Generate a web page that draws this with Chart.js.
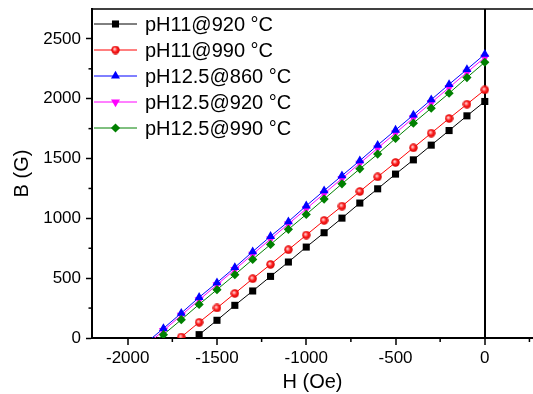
<!DOCTYPE html>
<html>
<head>
<meta charset="utf-8">
<script src="https://cdn.jsdelivr.net/npm/chart.js@4/dist/chart.umd.min.js"></script>
<style>
  body { margin: 0; background: #fff; }
  canvas { display: block; }
</style>
</head>
<body>
<canvas id="bhChart" width="533" height="394"></canvas>
<script>
// --- Datos ---
const campoH = [-1900, -1800, -1700, -1600, -1500, -1400, -1300, -1200, -1100, -1000,
                -900, -800, -700, -600, -500, -400, -300, -200, -100, 0];

const bPH11_920   = [null, null, -95, 28, 148, 273, 393, 515, 635, 760, 880, 1002, 1128, 1247, 1370, 1489, 1612, 1734, 1857, 1977];
const bPH11_990   = [null, -115, 8, 131, 251, 373, 496, 615, 738, 860, 983, 1102, 1225, 1347, 1467, 1590, 1712, 1835, 1954, 2074];
const bPH125_860  = [-45, 80, 208, 340, 463, 590, 722, 850, 973, 1105, 1232, 1357, 1482, 1612, 1738, 1864, 1992, 2120, 2245, 2372];
const bPH125_920  = [-65, 62, 190, 318, 445, 572, 700, 827, 953, 1080, 1207, 1333, 1460, 1587, 1713, 1840, 1967, 2093, 2220, 2345];
const bPH125_990  = [-97, 28, 153, 281, 404, 529, 657, 782, 908, 1033, 1161, 1289, 1414, 1537, 1668, 1796, 1921, 2046, 2177, 2305];

const etiquetas = ['pH11@920 \u00B0C', 'pH11@990 \u00B0C', 'pH12.5@860 \u00B0C', 'pH12.5@920 \u00B0C', 'pH12.5@990 \u00B0C'];

// Ticks de los ejes
const ticksX = [-2000, -1500, -1000, -500, 0];
const ticksXMenores = [-1750, -1250, -750, -250, 250];
const ticksY = [0, 500, 1000, 1500, 2000, 2500];
const ticksYMenores = [250, 750, 1250, 1750, 2250];

const FUENTE = '"Liberation Sans", Arial, sans-serif';

// Circulo rojo con brillo (como el de Origin)
function circuloBrillante() {
    const c = document.createElement('canvas');
    c.width = 9; c.height = 9;
    const g = c.getContext('2d');
    const grad = g.createRadialGradient(3.5, 3.5, 0.5, 4.5, 4.5, 4.5);
    grad.addColorStop(0, '#ffd0d0');
    grad.addColorStop(0.45, '#ff2020');
    grad.addColorStop(1, '#d00000');
    g.fillStyle = grad;
    g.beginPath();
    g.arc(4.5, 4.5, 4.2, 0, Math.PI * 2);
    g.fill();
    return c;
}

function puntos(valores) {
    return campoH.map((h, i) => ({ x: h, y: valores[i] })).filter(p => p.y !== null);
}

function serie(indice, valores, color, estilo, radio, rotacion, orden) {
    return {
        label: etiquetas[indice],
        data: puntos(valores),
        borderColor: color,
        backgroundColor: color,
        borderWidth: 1,
        pointStyle: estilo,
        pointRotation: rotacion,
        pointRadius: ctx => (ctx.raw && ctx.raw.y < 0 ? 0 : radio),
        pointBorderWidth: 0,
        tension: 0,
        order: orden
    };
}

const datasets = [
    serie(0, bPH11_920, '#000000', 'rect', 5, 0, 5),
    serie(1, bPH11_990, '#ff0000', circuloBrillante(), 4.5, 0, 4),
    serie(2, bPH125_860, '#0000ff', 'triangle', 5.2, 0, 2),
    serie(3, bPH125_920, '#ff00ff', 'triangle', 5.2, 180, 3),
    serie(4, bPH125_990, '#008000', 'rectRot', 4.6, 0, 1)
];

// --- Plugin: leyenda, ticks menores y borde superior ---
const extrasPlugin = {
    id: 'extras',
    afterDraw(chart) {
        const { ctx, chartArea, scales } = chart;
        ctx.save();
        // borde superior
        ctx.strokeStyle = '#000';
        ctx.lineWidth = 1.5;
        ctx.beginPath();
        ctx.moveTo(chartArea.left, chartArea.top);
        ctx.lineTo(chartArea.right, chartArea.top);
        ctx.stroke();

        // ticks menores
        ctx.lineWidth = 1.5;
        ticksXMenores.forEach(v => {
            const px = scales.x.getPixelForValue(v);
            ctx.beginPath();
            ctx.moveTo(px, chartArea.bottom);
            ctx.lineTo(px, chartArea.bottom + 4);
            ctx.stroke();
        });
        ticksYMenores.forEach(v => {
            const py = scales.y.getPixelForValue(v);
            ctx.beginPath();
            ctx.moveTo(chartArea.left - 3.5, py);
            ctx.lineTo(chartArea.left, py);
            ctx.stroke();
        });

        // leyenda
        const x0 = chartArea.left + 2, x1 = chartArea.left + 45;
        const xm = (x0 + x1) / 2;
        ctx.font = '20px ' + FUENTE;
        ctx.textBaseline = 'middle';
        chart.data.datasets.forEach((ds, i) => {
            const y = 24 + i * 26;
            ctx.strokeStyle = ds.borderColor;
            ctx.lineWidth = 1;
            ctx.beginPath();
            ctx.moveTo(x0, y);
            ctx.lineTo(x1, y);
            ctx.stroke();
            ctx.fillStyle = ds.backgroundColor;
            const r = typeof ds.pointRadius === 'function' ? ds.pointRadius({ raw: { y: 1 } }) : ds.pointRadius;
            Chart.helpers.drawPoint(ctx, { pointStyle: ds.pointStyle, rotation: ds.pointRotation, radius: r, borderWidth: 0 }, xm, y);
            ctx.fillStyle = '#000';
            ctx.fillText(ds.label, chartArea.left + 53, y + 1);
        });
        ctx.restore();
    }
};

// --- Grafica B vs H ---
const ctx = document.getElementById('bhChart').getContext('2d');
new Chart(ctx, {
    type: 'line',
    data: { datasets: datasets },
    options: {
        responsive: false,
        animation: false,
        layout: { autoPadding: false, padding: { top: 9, right: 0, left: 0, bottom: 0 } },
        plugins: { legend: { display: false }, tooltip: { enabled: false } },
        scales: {
            x: {
                type: 'linear',
                min: -2200,
                max: 270,
                afterFit: s => { s.height = 56; s.paddingLeft = 0; s.paddingRight = 0; },
                afterBuildTicks: s => { s.ticks = ticksX.map(v => ({ value: v })); },
                border: { color: '#000', width: 2 },
                grid: {
                    color: c => (c.tick && c.tick.value === 0 ? '#000' : 'rgba(0,0,0,0)'),
                    lineWidth: c => (c.tick && c.tick.value === 0 ? 2 : 0),
                    tickColor: '#000',
                    tickWidth: 1.5,
                    tickLength: 7
                },
                ticks: { color: '#000', font: { family: FUENTE, size: 17 }, padding: 3, maxRotation: 0, callback: v => String(v) },
                title: { display: true, text: 'H (Oe)', color: '#000', font: { family: FUENTE, size: 20 }, padding: { top: 0, bottom: 0 } }
            },
            y: {
                min: 0,
                max: 2750,
                afterFit: s => { s.width = 92; s.paddingTop = 0; s.paddingBottom = 0; },
                afterBuildTicks: s => { s.ticks = ticksY.map(v => ({ value: v })); },
                border: { color: '#000', width: 2 },
                grid: { drawOnChartArea: false, tickColor: '#000', tickWidth: 1.5, tickLength: 6 },
                ticks: { color: '#000', font: { family: FUENTE, size: 17 }, padding: 5, callback: v => String(v) },
                title: { display: true, text: 'B (G)', color: '#000', font: { family: FUENTE, size: 20 }, padding: { top: 10, bottom: 0 } }
            }
        }
    },
    plugins: [extrasPlugin]
});
</script>
</body>
</html>
